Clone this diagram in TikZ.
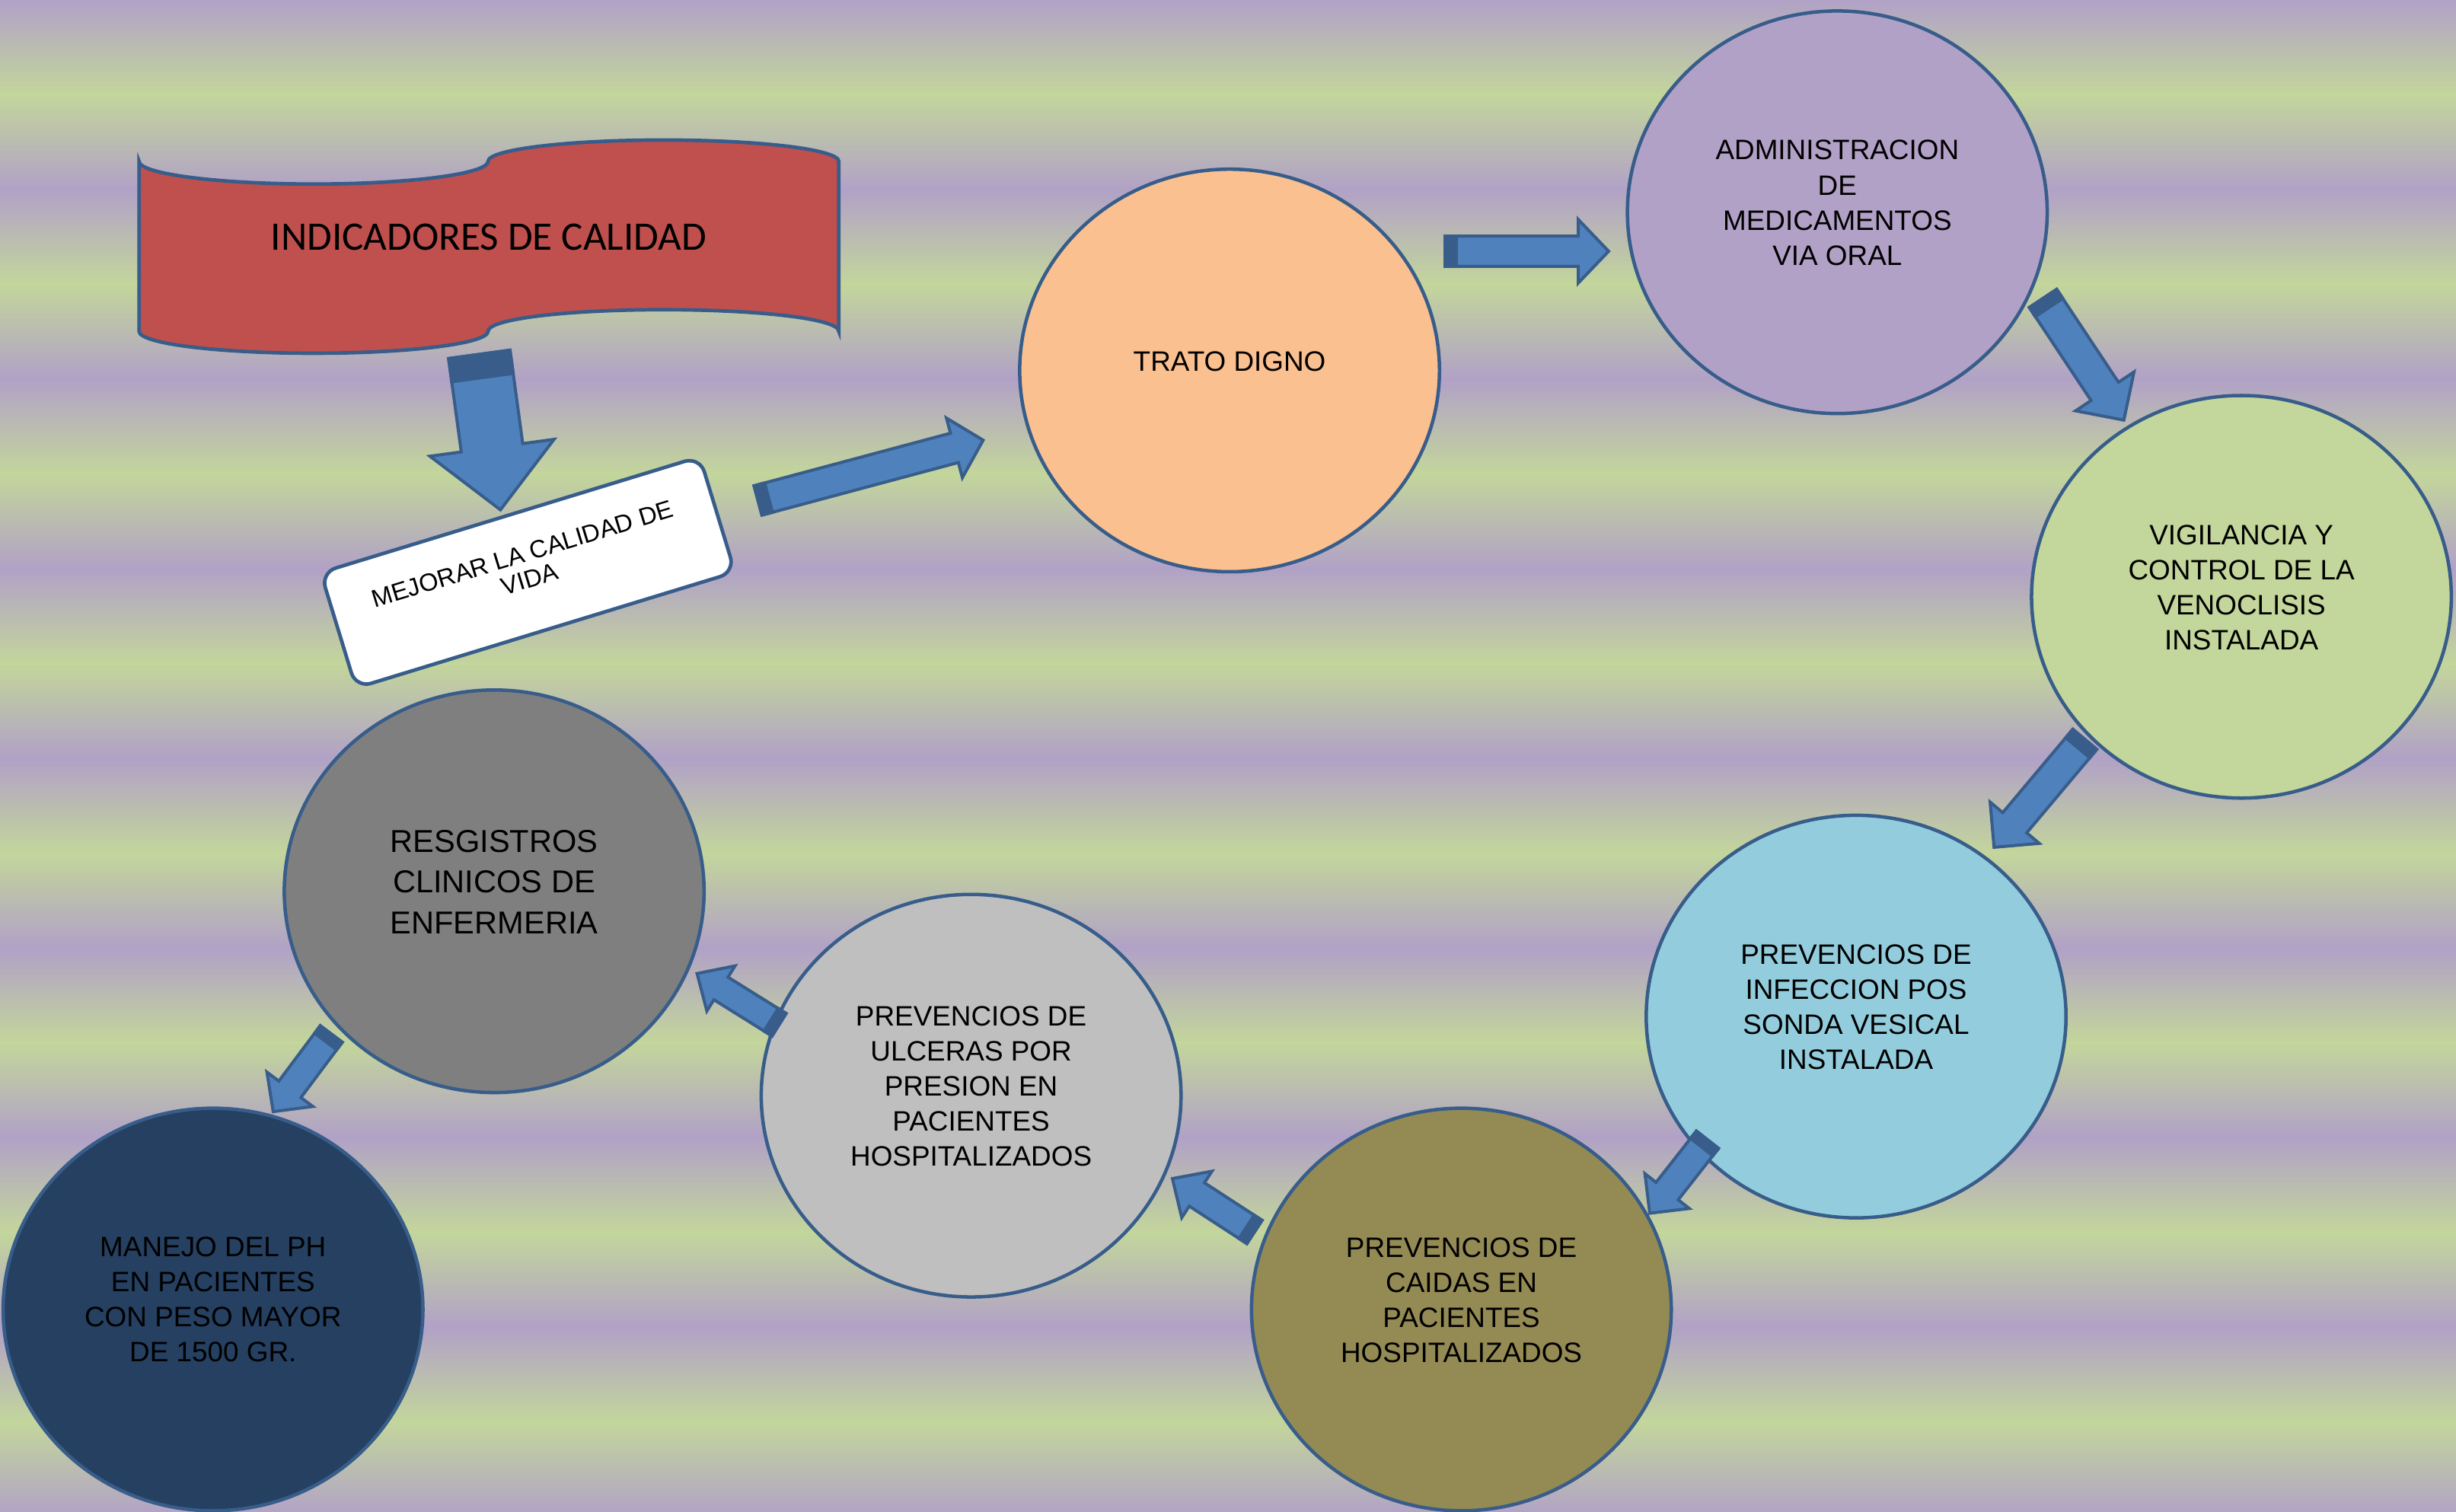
\documentclass[tikz,border=0pt]{standalone}
\usepackage{fontspec}
\setmainfont{Liberation Sans}
\newfontfamily\calibrifont{Carlito}
\usetikzlibrary{shapes.geometric,calc}
\definecolor{bgpurple}{HTML}{B1A1C7}
\definecolor{bggreen}{HTML}{C3D69B}
\definecolor{edgeblue}{HTML}{385D8A}
\definecolor{arrowfill}{HTML}{4F81BD}
\definecolor{bannerred}{HTML}{C0504D}
\definecolor{cpeach}{HTML}{FAC090}
\definecolor{cpurple}{HTML}{B2A1C7}
\definecolor{cgreen}{HTML}{C3D69B}
\definecolor{cblue}{HTML}{93CDDD}
\definecolor{colive}{HTML}{948A54}
\definecolor{csilver}{HTML}{BFBFBF}
\definecolor{cgray}{HTML}{7F7F7F}
\definecolor{cnavy}{HTML}{254061}

\newcommand{\arrowgeom}[2]{%
  \path let \p1=(#1), \p2=(#2) in \pgfextra{%
    \pgfmathsetmacro\tmpang{atan2(\y2-\y1,\x2-\x1)}%
    \pgfmathsetmacro\tmplen{veclen(\x2-\x1,\y2-\y1)/0.569055}%
    \xdef\barang{\tmpang}\xdef\barlen{\tmplen}};}

% tail, tip, shaft half width, head half width, head length, tail block length
\newcommand{\blockarrow}[6]{%
  \arrowgeom{#1}{#2}%
  \begin{scope}[shift={(#1)}, rotate=\barang, x=0.2mm, y=0.2mm]
    \filldraw[arrowbody] (0,-#3) -- ({\barlen-#5},-#3) -- ({\barlen-#5},-#4)
      -- (\barlen,0) -- ({\barlen-#5},#4) -- ({\barlen-#5},#3) -- (0,#3) -- cycle;
    \filldraw[arrowbody, fill=edgeblue] (0,-#3) rectangle (#6,#3);
  \end{scope}}

\newcommand{\stripedarrow}[5]{%
  \arrowgeom{#1}{#2}%
  \begin{scope}[shift={(#1)}, rotate=\barang, x=0.2mm, y=0.2mm]
    \filldraw[arrowbody] (0,-#3) -- ({\barlen-#5},-#3) -- ({\barlen-#5},-#4)
      -- (\barlen,0) -- ({\barlen-#5},#4) -- ({\barlen-#5},#3) -- (0,#3) -- cycle;
    \filldraw[arrowbody, fill=edgeblue] (0,-#3) rectangle (7,#3);
    \filldraw[arrowbody, fill=edgeblue] (8.5,-#3) rectangle (15,#3);
  \end{scope}}

\begin{document}
\begin{tikzpicture}[x=0.2mm, y=-0.2mm,
  arrowbody/.style={fill=arrowfill, draw=edgeblue, line width=1.1pt, line join=miter},
  circ/.style={ellipse, draw=edgeblue, line width=1.25pt, minimum width=53.6mm, minimum height=51.4mm, inner sep=0pt},
  ctext/.style={align=center, inner sep=0pt, text=black, font=\fontsize{10.2}{12.75}\selectfont}]
\useasboundingbox (0,0) rectangle (1568,965);

% background stripes
\begin{scope}
\clip (0,0) rectangle (1568,965);
\foreach \i in {0,...,7} {
  \shade[top color=bgpurple, bottom color=bggreen] (-2,{121*\i-0.5}) rectangle (1570,{121*\i+61});
  \shade[top color=bggreen, bottom color=bgpurple] (-2,{121*\i+60.5}) rectangle (1570,{121*\i+121.5});
}
\end{scope}

% banner
\filldraw[fill=bannerred, draw=edgeblue, line width=1.3pt]
  (88.8,103) .. controls (88.8,111) and (138.7,117.5) .. (200.2,117.5)
  .. controls (261.7,117.5) and (311.6,111) .. (311.6,103)
  .. controls (311.6,95.5) and (361.7,89.4) .. (423.55,89.4)
  .. controls (485.4,89.4) and (535.5,95.5) .. (535.5,103)
  -- (535.5,211.5)
  .. controls (535.5,203.6) and (485.4,197.7) .. (423.55,197.7)
  .. controls (361.7,197.7) and (311.6,203.6) .. (311.6,211.5)
  .. controls (311.6,219.3) and (261.7,225.5) .. (200.2,225.5)
  .. controls (138.7,225.5) and (88.8,219.3) .. (88.8,211.5) -- cycle;
\node[inner sep=0pt, font=\calibrifont\fontsize{14.7}{17}\selectfont] (banner) at (312,151.5) {INDICADORES DE CALIDAD};

% rounded box
\node[draw=edgeblue, fill=white, line width=1.3pt, rounded corners=2mm,
  minimum width=50.6mm, minimum height=15.4mm, inner sep=0pt, rotate=17] (mejorar) at (337,365.4) {};
\node[rotate=17, align=center, inner sep=0pt, font=\fontsize{9}{9.4}\selectfont] (mejtxt) at (335.8,361.6) {MEJORAR LA CALIDAD DE\\VIDA};

% ellipses
\node[circ, fill=cpeach] (trato) at (785,236.5) {};
\node[circ, fill=cpurple] (admin) at (1173,135.5) {};
\node[circ, fill=cgreen] (vigil) at (1431,381) {};
\node[circ, fill=cblue] (infec) at (1185,649) {};
\node[circ, fill=colive] (caidas) at (933,836) {};
\node[circ, fill=csilver] (ulceras) at (620,699.5) {};
\node[circ, fill=cgray] (regis) at (315.5,569) {};
\node[circ, fill=cnavy] (manejo) at (136,836) {};

% arrow end points
\coordinate (a1t) at (306,226.2);   \coordinate (a1h) at (319.5,325.5);
\coordinate (a2t) at (483.9,319.5); \coordinate (a2h) at (627.7,281);
\coordinate (a3t) at (922.6,160.4); \coordinate (a3h) at (1027,160.4);
\coordinate (a4t) at (1304.3,190.5);\coordinate (a4h) at (1356,268.3);
\coordinate (a5t) at (1331,472);    \coordinate (a5h) at (1273,541);
\coordinate (a6t) at (1090.1,727.6);\coordinate (a6h) at (1053.2,774.6);
\coordinate (a7t) at (800.9,786.5); \coordinate (a7h) at (748.5,752.4);
\coordinate (a8t) at (497.4,654.2); \coordinate (a8h) at (445,621.5);
\coordinate (a9t) at (211.5,660.1); \coordinate (a9h) at (174.4,709.7);

\stripedarrow{a1t}{a1h}{19.8}{40}{40}
\blockarrow{a2t}{a2h}{9.7}{19.7}{19}{7}
\blockarrow{a3t}{a3h}{9.7}{20.3}{19.4}{7.4}
\blockarrow{a4t}{a4h}{10.5}{22.4}{22}{7}
\blockarrow{a5t}{a5h}{10}{20.5}{20.5}{7}
\blockarrow{a6t}{a6h}{9}{18}{18}{6}
\blockarrow{a7t}{a7h}{8.9}{17.7}{18.6}{6}
\blockarrow{a8t}{a8h}{8.5}{17}{18}{6}
\blockarrow{a9t}{a9h}{8.8}{18.3}{17.8}{6}

% texts
\node[ctext] (tratotxt) at (785,231) {TRATO DIGNO};
\node[ctext] (admintxt) at (1173,129.5) {ADMINISTRACION\\DE\\MEDICAMENTOS\\VIA ORAL};
\node[ctext] (vigiltxt) at (1431,375) {VIGILANCIA Y\\CONTROL DE LA\\VENOCLISIS\\INSTALADA};
\node[ctext] (infectxt) at (1185,643) {PREVENCIOS DE\\INFECCION POS\\SONDA VESICAL\\INSTALADA};
\node[ctext] (caidastxt) at (933,830) {PREVENCIOS DE\\CAIDAS EN\\PACIENTES\\HOSPITALIZADOS};
\node[ctext] (ulcerastxt) at (620,693.5) {PREVENCIOS DE\\ULCERAS POR\\PRESION EN\\PACIENTES\\HOSPITALIZADOS};
\node[ctext, font=\fontsize{11.5}{14.7}\selectfont] (registxt) at (315.5,563) {RESGISTROS\\CLINICOS DE\\ENFERMERIA};
\node[ctext] (manejotxt) at (136,829.5) {MANEJO DEL PH\\EN PACIENTES\\CON PESO MAYOR\\DE 1500 GR.};
\end{tikzpicture}
\end{document}
